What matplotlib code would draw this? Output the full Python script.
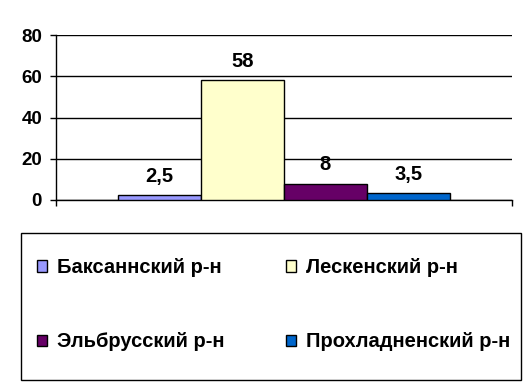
import matplotlib
matplotlib.use("Agg")
import matplotlib.pyplot as plt
from matplotlib.patches import Rectangle

series = ["Баксаннский р-н", "Лескенский р-н", "Эльбрусский р-н", "Прохладненский р-н"]
values = [2.5, 58, 8, 3.5]
colors = ["#9999FF", "#FFFFCC", "#660066", "#0066CC"]
yticks = [0, 20, 40, 60, 80]

plt.rcParams['font.family'] = ['Liberation Sans', 'DejaVu Sans']
plt.rcParams['font.weight'] = 'bold'

W, H = 529, 391
fig = plt.figure(figsize=(W / 100, H / 100), dpi=100)
ax = fig.add_axes([56 / W, (H - 200) / H, (512 - 56) / W, (200 - 35) / H])

bw = 0.182
start = 0.5 - bw * len(values) / 2
bars = []
for i, (name, v, c) in enumerate(zip(series, values, colors)):
    b = ax.bar(start + bw * (i + 0.5), v, width=bw, color=c, edgecolor='black',
               linewidth=1.0, label=name, zorder=3)
    bars.append(b)
    ax.annotate(f"{v:g}".replace('.', ','), (start + bw * (i + 0.5), v),
                xytext=(0, 9.5), textcoords='offset points', ha='center',
                va='baseline', fontsize=14.5, fontweight='bold')

ax.set_xlim(0, 1)
ax.set_ylim(0, 80)
ax.set_yticks(yticks)
ax.set_xticks([0, 1])
ax.set_xticklabels([])
ax.tick_params(axis='y', direction='out', length=4.5, width=1, pad=5.5, labelsize=13.5)
ax.tick_params(axis='x', direction='out', length=4.5, width=1)
ax.yaxis.grid(True, color='black', linewidth=1)
ax.set_axisbelow(True)
for t in ax.yaxis.get_major_ticks():
    if t.get_loc() == 80:
        t.gridline.set_visible(False)
for s in ['top', 'right']:
    ax.spines[s].set_visible(False)
for s in ['left', 'bottom']:
    ax.spines[s].set_linewidth(1)

# legend frame
fig.patches.append(Rectangle((21 / W, (H - 380) / H), 500 / W, 147 / H,
                             transform=fig.transFigure, fill=False,
                             edgecolor='black', linewidth=1.0))
order = [0, 2, 1, 3]
leg = fig.legend(handles=[bars[i][0] for i in order], labels=[series[i] for i in order], ncol=2,
                 loc='upper left', bbox_to_anchor=(37 / W, (H - 262) / H, (510 - 37) / W, 0.01),
                 mode='expand', frameon=False, fontsize=14.5,
                 handlelength=0.5, handleheight=0.5, handletextpad=0.5,
                 labelspacing=2.75, borderpad=0, borderaxespad=0)

fig.savefig("out.png", dpi=100)
